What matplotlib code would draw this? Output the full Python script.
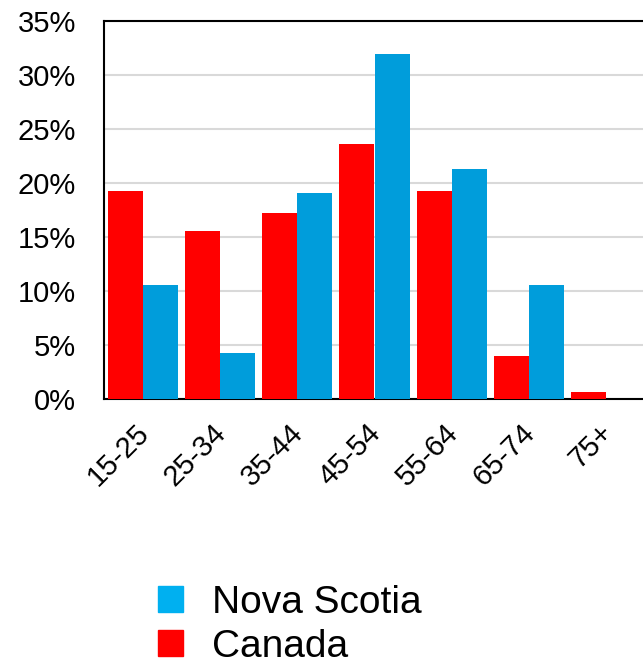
import matplotlib.pyplot as plt
import matplotlib.transforms as mtransforms
import numpy as np
from matplotlib.patches import Patch

# age groups and shares (%)
groups = ["15-25", "25-34", "35-44", "45-54", "55-64", "65-74", "75+"]
canada = [19.3, 15.6, 17.2, 23.6, 19.3, 4.0, 0.65]
nova_scotia = [10.6, 4.3, 19.1, 31.9, 21.3, 10.6, 0.0]

plt.rcParams['font.family'] = ['Liberation Sans', 'DejaVu Sans']

fig = plt.figure(figsize=(6.43, 6.67), dpi=100)
# axes runs a bit past the right edge, like the original
ax = fig.add_axes([104 / 643, 1 - 399 / 667, 541 / 643, 378 / 667])

x = np.arange(len(groups))
w = 0.453
ax.bar(x - w / 2, canada, w, color="#FF0000", zorder=3)
ax.bar(x + w / 2, nova_scotia, w, color="#009DDB", zorder=3)

ax.set_xlim(-0.5, len(groups) - 0.5)
ax.set_ylim(0, 35)
ax.set_yticks(np.arange(0, 36, 5))
ax.set_yticklabels([f"{v}%" for v in range(0, 36, 5)], fontsize=21)
ax.set_xticks(x)
ax.set_xticklabels(groups, rotation=45, ha="right", rotation_mode="anchor", fontsize=21)
ax.tick_params(length=0)
ax.tick_params(axis="y", pad=20)
ax.tick_params(axis="x", pad=14)
# nudge the rotated labels left a little
offset = mtransforms.ScaledTranslation(-8 / 100, 0, fig.dpi_scale_trans)
for lab in ax.get_xticklabels():
    lab.set_transform(lab.get_transform() + offset)
ax.yaxis.grid(True, color="#D9D9D9", linewidth=1.5, zorder=0)
for s in ax.spines.values():
    s.set_linewidth(1.5)
    s.set_color("black")

handles = [Patch(color="#00B0F0"), Patch(color="#FF0000")]
fig.legend(handles, ["Nova Scotia", "Canada"], loc="center left",
           bbox_to_anchor=(158 / 643, 1 - 625 / 667), frameon=False,
           fontsize=28, handlelength=0.65, handleheight=0.65, handletextpad=0.75,
           labelspacing=0.2, borderpad=0, borderaxespad=0)

fig.savefig("out.png", dpi=100)
